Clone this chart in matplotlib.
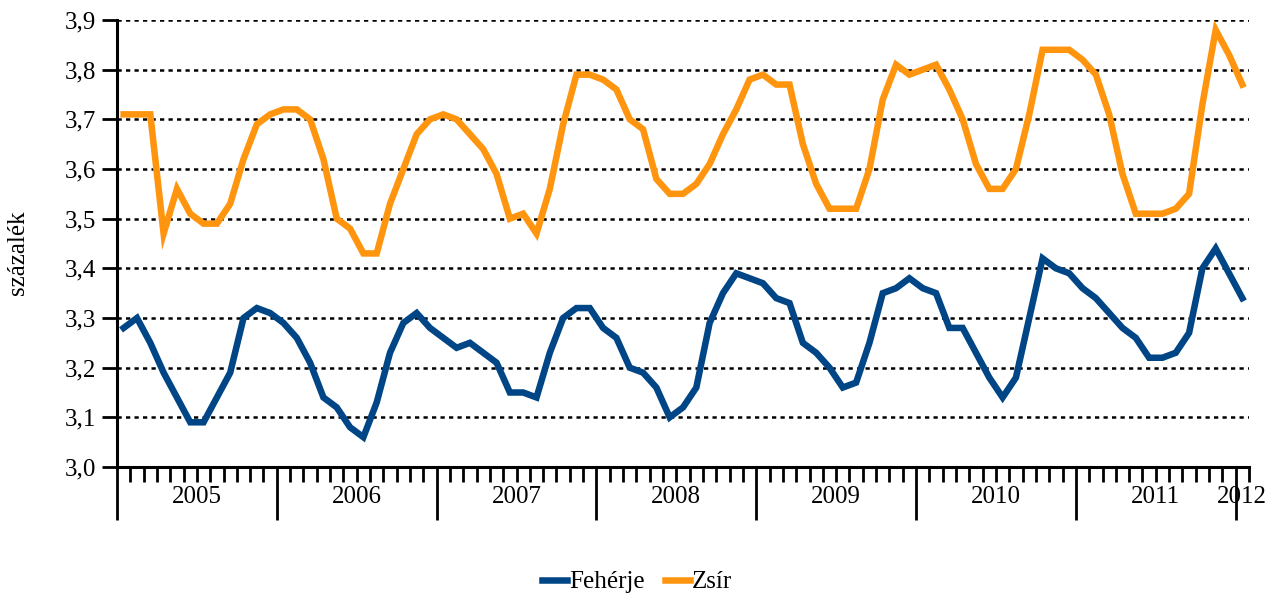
import numpy as np
import matplotlib
matplotlib.use("Agg")
import matplotlib.pyplot as plt
from matplotlib.ticker import FixedLocator, NullFormatter

# monthly values, Jan 2005 - Jan 2012
feherje = [3.28, 3.30, 3.25, 3.19, 3.14, 3.09, 3.09, 3.14, 3.19, 3.30, 3.32, 3.31,
           3.29, 3.26, 3.21, 3.14, 3.12, 3.08, 3.06, 3.13, 3.23, 3.29, 3.31, 3.28,
           3.26, 3.24, 3.25, 3.23, 3.21, 3.15, 3.15, 3.14, 3.23, 3.30, 3.32, 3.32,
           3.28, 3.26, 3.20, 3.19, 3.16, 3.10, 3.12, 3.16, 3.29, 3.35, 3.39, 3.38,
           3.37, 3.34, 3.33, 3.25, 3.23, 3.20, 3.16, 3.17, 3.25, 3.35, 3.36, 3.38,
           3.36, 3.35, 3.28, 3.28, 3.23, 3.18, 3.14, 3.18, 3.30, 3.42, 3.40, 3.39,
           3.36, 3.34, 3.31, 3.28, 3.26, 3.22, 3.22, 3.23, 3.27, 3.40, 3.44, 3.39,
           3.34]
zsir = [3.71, 3.71, 3.71, 3.47, 3.56, 3.51, 3.49, 3.49, 3.53, 3.62, 3.69, 3.71,
        3.72, 3.72, 3.70, 3.62, 3.50, 3.48, 3.43, 3.43, 3.53, 3.60, 3.67, 3.70,
        3.71, 3.70, 3.67, 3.64, 3.59, 3.50, 3.51, 3.47, 3.56, 3.69, 3.79, 3.79,
        3.78, 3.76, 3.70, 3.68, 3.58, 3.55, 3.55, 3.57, 3.61, 3.67, 3.72, 3.78,
        3.79, 3.77, 3.77, 3.65, 3.57, 3.52, 3.52, 3.52, 3.60, 3.74, 3.81, 3.79,
        3.80, 3.81, 3.76, 3.70, 3.61, 3.56, 3.56, 3.60, 3.71, 3.84, 3.84, 3.84,
        3.82, 3.79, 3.71, 3.59, 3.51, 3.51, 3.51, 3.52, 3.55, 3.73, 3.88, 3.83,
        3.77]
years = ["2005", "2006", "2007", "2008", "2009", "2010", "2011", "2012"]
y_ticks = [3.0, 3.1, 3.2, 3.3, 3.4, 3.5, 3.6, 3.7, 3.8, 3.9]

plt.rcParams['font.family'] = ['Liberation Serif', 'DejaVu Serif']
FS = 18

fig = plt.figure(figsize=(12.8, 5.99), dpi=100)
ax = fig.add_axes([117/1280, 1 - 467/599, (1249 - 117)/1280, (467 - 20)/599])

n = len(zsir)
x = np.arange(n) + 0.5
ax.plot(x, feherje, color='#004586', lw=4.7, label='Fehérje', solid_joinstyle='miter')
ax.plot(x, zsir, color='#ff950e', lw=4.7, label='Zsír', solid_joinstyle='miter')

ax.set_xlim(0, n)
ax.set_ylim(3.0, 3.9)

# gridlines
for v in y_ticks[1:]:
    ax.axhline(v, color='black', lw=1.8, linestyle=(0, (1.7, 1.7)), zorder=0)

ax.set_yticks(y_ticks)
ax.set_yticklabels([f"{v:.1f}".replace('.', ',') for v in y_ticks], fontsize=FS)
ax.tick_params(axis='y', length=11, width=2, direction='out', pad=4)

# category axis: month boundaries as minor ticks, year boundaries as major ticks
ax.xaxis.set_major_locator(FixedLocator(list(range(0, n, 12))))
ax.xaxis.set_minor_locator(FixedLocator(list(range(0, n + 1))))
ax.xaxis.set_major_formatter(NullFormatter())
ax.tick_params(axis='x', which='major', length=38, width=2, direction='out')
ax.tick_params(axis='x', which='minor', length=11, width=2, direction='out')

for k, yr in enumerate(years):
    start = 12 * k
    end = min(start + 12, n)
    ax.text((start + end) / 2, -0.068, yr, transform=ax.get_xaxis_transform(),
            ha='center', va='center', fontsize=FS)

for side in ['top', 'right']:
    ax.spines[side].set_visible(False)
ax.spines['left'].set_linewidth(2.2)
ax.spines['bottom'].set_linewidth(2.2)

fig.text(18/1280, 1 - 253/599, 'százalék', rotation=90, ha='center', va='center',
         fontsize=FS)

fig.legend(loc='center', bbox_to_anchor=(637/1280, 1 - 582/599), ncol=2,
           frameon=False, fontsize=FS, handlelength=1.0, handletextpad=0.1,
           columnspacing=0.8)

fig.savefig('out.png', dpi=100)
